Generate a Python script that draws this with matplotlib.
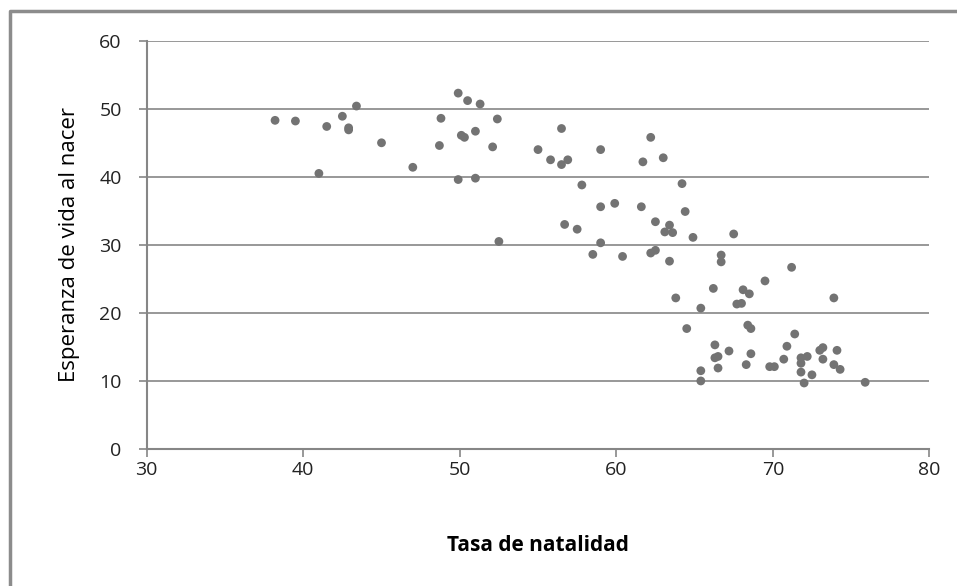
"""Scatter of birth rate vs life expectancy"""

# import packages
import matplotlib.pyplot as plt

# data
tasa_natalidad = [38.2, 39.5, 41.5, 42.5, 42.9, 42.9, 43.4, 45.0, 47.0, 41.0,
                  48.8, 48.7, 49.9, 50.5, 51.3, 50.1, 50.3, 51.0, 49.9, 51.0,
                  52.4, 52.1, 55.0, 52.5, 56.5, 55.8, 56.5, 56.9, 59.0, 62.2,
                  61.7, 63.0, 57.8, 64.2, 59.0, 59.9, 61.6, 64.4, 62.5, 63.4,
                  63.1, 63.6, 56.7, 57.5, 64.9, 67.5, 59.0, 58.5, 60.4, 62.2,
                  62.5, 63.4, 66.7, 66.7, 66.2, 63.8, 65.4, 68.1, 68.5, 67.7,
                  68.0, 71.2, 69.5, 73.9, 64.5, 68.4, 68.6, 71.4, 66.3, 70.9,
                  67.2, 68.6, 73.2, 73.0, 74.1, 66.3, 66.5, 70.7, 71.8, 72.2,
                  73.2, 71.8, 73.9, 74.3, 68.3, 69.8, 70.1, 66.5, 65.4, 71.8,
                  72.5, 65.4, 72.0, 75.9]
esperanza_vida = [48.3, 48.2, 47.4, 48.9, 47.2, 46.9, 50.4, 45.0, 41.4, 40.5,
                  48.6, 44.6, 52.3, 51.2, 50.7, 46.1, 45.8, 46.7, 39.6, 39.8,
                  48.5, 44.4, 44.0, 30.5, 47.1, 42.5, 41.8, 42.5, 44.0, 45.8,
                  42.2, 42.8, 38.8, 39.0, 35.6, 36.1, 35.6, 34.9, 33.4, 32.9,
                  31.9, 31.8, 33.0, 32.3, 31.1, 31.6, 30.3, 28.6, 28.3, 28.8,
                  29.2, 27.6, 28.5, 27.5, 23.6, 22.2, 20.7, 23.4, 22.8, 21.3,
                  21.4, 26.7, 24.7, 22.2, 17.7, 18.2, 17.7, 16.9, 15.3, 15.1,
                  14.4, 14.0, 14.9, 14.5, 14.5, 13.4, 13.6, 13.2, 13.4, 13.6,
                  13.2, 12.6, 12.4, 11.7, 12.4, 12.1, 12.1, 11.9, 11.5, 11.3,
                  10.9, 10.0, 9.7, 9.8]
x_ticks = [30, 40, 50, 60, 70, 80]
y_ticks = [0, 10, 20, 30, 40, 50, 60]

plt.rcParams['font.family'] = ['Open Sans', 'DejaVu Sans']

# plot
fig = plt.figure(figsize=(9.57, 5.86), dpi=100)
axes = fig.add_axes([0.1533, 0.2338, 0.8178, 0.6967])
axes.scatter(tasa_natalidad, esperanza_vida, s=40, color='#737373',
             edgecolors='none', zorder=3)
axes.set_xlim(30, 80)
axes.set_ylim(0, 60)
axes.set_xticks(x_ticks)
axes.set_yticks(y_ticks)
axes.grid(True, axis='y', color='#868686', linewidth=1.2)
axes.set_axisbelow(True)
for side in ['top', 'right']:
    axes.spines[side].set_visible(False)
for side in ['left', 'bottom']:
    axes.spines[side].set_color('#868686')
    axes.spines[side].set_linewidth(1.5)
axes.tick_params(axis='both', direction='out', length=6, width=1.2,
                 color='#868686', labelsize=14, labelcolor='#222222')
axes.tick_params(axis='x', pad=3)
axes.tick_params(axis='y', pad=12)
axes.set_xlabel("Tasa de natalidad", fontsize=15, fontweight='bold', labelpad=40)
axes.set_ylabel("Esperanza de vida al nacer", fontsize=16, labelpad=14)

# chart border, only the left and top edges show
fig.add_artist(plt.Line2D([0.0105, 0.0105, 1.0], [0.0, 0.981, 0.981],
                          color='#8c8c8c', linewidth=2.5, transform=fig.transFigure))

fig.savefig('out.png', dpi=100)
